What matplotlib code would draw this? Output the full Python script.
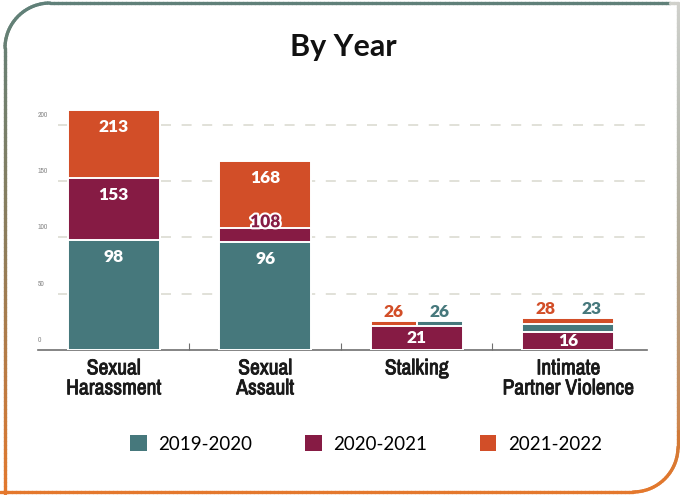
import numpy as np
import matplotlib
matplotlib.use("Agg")
import matplotlib.pyplot as plt
from matplotlib import font_manager
from matplotlib.patches import Patch
from matplotlib.collections import LineCollection
import matplotlib.patheffects as pe

# ---- data ----
categories = ["Sexual\nHarassment", "Sexual\nAssault", "Stalking", "Intimate\nPartner Violence"]
series_names = ["2019-2020", "2020-2021", "2021-2022"]
y_2019_2020 = [98, 96, 26, 23]
y_2020_2021 = [153, 108, 21, 16]
y_2021_2022 = [213, 168, 26, 28]
y_ticks = [0, 50, 100, 150, 200]

series = [y_2019_2020, y_2020_2021, y_2021_2022]
colors = ["#46787c", "#861b44", "#d24e28"]

# ---- fonts ----
fl = font_manager.fontManager.ttflist
installed = {f.name for f in fl}
def pick(*names):
    for n in names:
        if n in installed:
            return n
    return "DejaVu Sans"

num_font = pick("Lato", "Open Sans", "DejaVu Sans")
txt_font = pick("Lato", "Noto Sans", "DejaVu Sans")
narrow = sorted({f.name for f in fl if ("Narrow" in f.name or "Condensed" in f.name)})
if "Liberation Sans Narrow" in installed:
    cat_font, cat_stretch = "Liberation Sans Narrow", "normal"
elif narrow:
    cat_font, cat_stretch = narrow[0], "normal"
else:
    cat_font, cat_stretch = pick("Roboto", "DejaVu Sans"), "condensed"

DPI = 100
fig = plt.figure(figsize=(6.8, 4.95), dpi=DPI)
px = 72.0 / DPI  # points per pixel

ax = fig.add_axes([38 / 680, 145 / 495, 609 / 680, 248 / 495])
ax.set_xlim(-0.5, 3.52)
ax.set_ylim(0, 220)

bar_w = 0.61

# dashed grid
for t in y_ticks[1:]:
    ax.axhline(t, xmin=0.033, xmax=1, color="#dcdbd2", lw=1.2,
               dashes=(10 * px / 1.2, 10.6 * px / 1.2), zorder=0)

# ---- overlapping bars ----
for i in range(len(categories)):
    vals = [s[i] for s in series]
    order = sorted(range(3), key=lambda k: (-vals[k], -k))
    groups = []
    for k in order:
        if groups and vals[groups[-1][0]] == vals[k]:
            groups[-1].append(k)
        else:
            groups.append([k])
    z = 2
    for g in groups:
        n = len(g)
        w = bar_w / n
        for j, k in enumerate(g):
            x0 = i - bar_w / 2 + j * w
            ax.bar(x0, vals[k], width=w, align="edge", color=colors[k],
                   edgecolor="white", linewidth=1.4, zorder=z)
        z += 1

    # labels
    small_cat = max(vals) < 50
    above = []
    for k in range(3):
        lower = [v for v in vals if v < vals[k]]
        bottom = max(lower) if lower else 0
        h = vals[k] - bottom
        if h >= 15:
            h_px = h * 248 / 220
            if h_px < 40:
                y = bottom + h / 2
                dy = 0
            else:
                y = vals[k]
                dy = -17 * px
            ax.annotate(str(vals[k]), (i, y), xytext=(0, dy), textcoords="offset points",
                        ha="center", va="center", color="white", fontsize=12.5,
                        fontweight="heavy", family=num_font, zorder=10)
        elif small_cat:
            above.append(k)
        else:
            t = ax.annotate(str(vals[k]), (i, vals[k]), xytext=(0, 1 * px),
                            textcoords="offset points", ha="center", va="baseline",
                            color=colors[k], fontsize=12.5, fontweight="heavy",
                            family=num_font, zorder=10)
            t.set_path_effects([pe.withStroke(linewidth=3, foreground="white")])
    above = sorted(above, key=lambda k: -k)
    for j, k in enumerate(above):
        xoff = (j - (len(above) - 1) / 2) * bar_w / 2
        ax.annotate(str(vals[k]), (i + xoff, max(vals)), xytext=(0, 4 * px),
                    textcoords="offset points", ha="center", va="baseline",
                    color=colors[k], fontsize=12.5, fontweight="heavy",
                    family=num_font, zorder=10)

# ---- axes styling ----
for s in ["top", "right", "left"]:
    ax.spines[s].set_visible(False)
ax.spines["bottom"].set_color("#6f6f6f")
ax.spines["bottom"].set_linewidth(1.2)
ax.set_yticks([])
ax.set_xticks(range(len(categories)))
ax.set_xticklabels(categories, family=cat_font, stretch=cat_stretch, fontsize=15.5,
                   fontweight="bold", color="#1a1a1a", linespacing=1.0)
for lab in ax.get_xticklabels():
    lab.set_path_effects([pe.withStroke(linewidth=0.6, foreground="#1a1a1a")])
ax.tick_params(axis="x", which="major", length=0, pad=6)
ax.set_xticks([0.5, 1.5, 2.5], minor=True)
ax.tick_params(axis="x", which="minor", direction="in", length=5, width=0.8, color="#6f6f6f")

for t in y_ticks:
    ax.annotate(str(t), (0, t), xycoords=("axes fraction", "data"), xytext=(0, 10 * px),
                textcoords="offset points", ha="left", va="center", fontsize=5.5,
                color="#8a8a8a", family=cat_font, stretch=cat_stretch)

# ---- title ----
fig.text(343 / 680, 1 - 47 / 495, "By Year", ha="center", va="center", fontsize=22,
         fontweight="bold", family=txt_font, color="#111111")

# ---- legend ----
handles = [Patch(facecolor=c, edgecolor="none") for c in colors]
fig.legend(handles, series_names, loc="center", bbox_to_anchor=(366 / 680, 1 - 444 / 495),
           ncol=3, frameon=False, handlelength=0.9, handleheight=0.9,
           handletextpad=0.6, columnspacing=2.8, prop={"family": txt_font, "size": 13.5})

# ---- rounded frame with colour gradient ----
r = 45
pts = []
pts += [(5, 494), (5, 3 + r)]
for a in np.linspace(np.pi, np.pi / 2, 30):
    pts.append((5 + r + r * np.cos(a), 3 + r - r * np.sin(a)))
pts += [(678, 3), (678, 492 - r)]
for a in np.linspace(0, -np.pi / 2, 30):
    pts.append((678 - r + r * np.cos(a), 492 - r - r * np.sin(a)))
pts += [(0, 492)]
pts = np.array(pts, dtype=float)
dense = [pts[0]]
for p0, p1 in zip(pts[:-1], pts[1:]):
    n = max(2, int(np.hypot(*(p1 - p0)) / 4))
    for t in np.linspace(0, 1, n)[1:]:
        dense.append(p0 + (p1 - p0) * t)
dense = np.array(dense)
segs = np.stack([dense[:-1], dense[1:]], axis=1)
mid = segs.mean(axis=1)
c_top = np.array([0x5f, 0x80, 0x79]) / 255
c_mid = np.array([0x8f, 0x7d, 0x5a]) / 255
c_bot = np.array([0xe5, 0x78, 0x2c]) / 255
seg_cols = []
for (mx, my) in mid:
    t = my / 495
    if t < 0.5:
        c = c_top + (c_mid - c_top) * (t / 0.5)
    else:
        c = c_mid + (c_bot - c_mid) * ((t - 0.5) / 0.5)
    if mx > 670 and my < 430:
        c = c + (np.array([0.82, 0.82, 0.8]) - c) * (1 - t)
    seg_cols.append(np.clip(c, 0, 1))
segs_fig = segs.copy()
segs_fig[..., 0] = segs[..., 0] / 680
segs_fig[..., 1] = 1 - segs[..., 1] / 495
lc = LineCollection(segs_fig, colors=seg_cols, linewidths=2.4, transform=fig.transFigure,
                    capstyle="round")
fig.add_artist(lc)

fig.savefig("out.png", dpi=DPI)
